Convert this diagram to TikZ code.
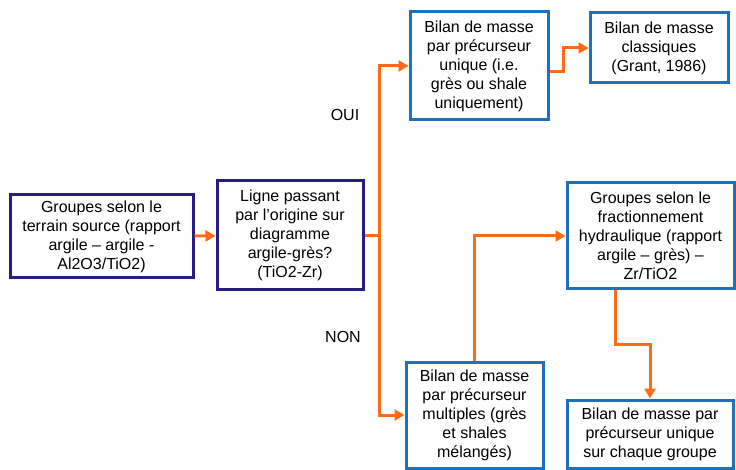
\documentclass[tikz,border=0pt]{standalone}
\usepackage{fontspec}
\setmainfont{Liberation Sans}
\usepackage{tikz}
\usetikzlibrary{arrows.meta, positioning}
\definecolor{navy}{RGB}{38,28,130}
\definecolor{boxblue}{RGB}{32,112,186}
\definecolor{flowor}{RGB}{255,106,24}

\tikzset{
  srcbox/.style={rectangle, draw=navy, line width=3pt, fill=white,
                 align=center, inner sep=2pt, font=\fontsize{16}{19}\selectfont},
  bilanbox/.style={srcbox, draw=boxblue},
  flow/.style={draw=flowor, line width=3pt,
               -{Triangle[length=10pt,width=11pt]}},
  answer/.style={font=\fontsize{16}{19}\selectfont}
}

\begin{document}
\begin{tikzpicture}[x=1pt, y=-1pt]
    \useasboundingbox (0,0) rectangle (736,470);

    % left part
    \node[srcbox, minimum width=183pt, minimum height=83pt] (terrain) at (101.5,236.5)
      {Groupes selon le\\terrain source (rapport\\argile -- argile -\\Al2O3/TiO2)};
    \node[srcbox, minimum width=146pt, minimum height=109pt] (ligne) at (290,235.5)
      {Ligne passant\\par l'origine sur\\diagramme\\argile-grès?\\(TiO2-Zr)};

    % right part
    \node[bilanbox, minimum width=138pt, minimum height=108pt] (unique) at (479,66)
      {Bilan de masse\\par précurseur\\unique (i.e.\\grès ou shale\\uniquement)};
    \node[bilanbox, minimum width=138pt, minimum height=70pt] (grant) at (659,48)
      {Bilan de masse\\classiques\\(Grant, 1986)};
    \node[bilanbox, minimum width=137pt, minimum height=106pt] (multi) at (474.5,415)
      {Bilan de masse\\par précurseur\\multiples (grès\\et shales\\mélangés)};
    \node[bilanbox, minimum width=167pt, minimum height=106pt] (fract) at (650.5,236)
      {Groupes selon le\\fractionnement\\hydraulique (rapport\\argile -- grès) --\\Zr/TiO2};
    \node[bilanbox, minimum width=166pt, minimum height=68pt] (groupe) at (650,434)
      {Bilan de masse par\\précurseur unique\\sur chaque groupe};

    \node[answer] (oui) at (345,115) {OUI};
    \node[answer] (non) at (343,337) {NON};

    % connectors
    \draw[flow] (terrain) -- (ligne);
    \draw[draw=flowor, line width=3pt] (ligne.east) -- ++(15pt,0) coordinate (split);
    \draw[flow] (split) |- (unique.west);
    \draw[flow] (split) |- (multi.west);
    \draw[flow] ([yshift=-6pt]unique.east) -- ++(14pt,0) |- (grant.west);
    \draw[flow] (multi.north) |- (fract.west);
    \draw[flow] ([xshift=-35pt]fract.south) -- ++(0,-54pt) -| (groupe.north);
  \end{tikzpicture}
\end{document}
